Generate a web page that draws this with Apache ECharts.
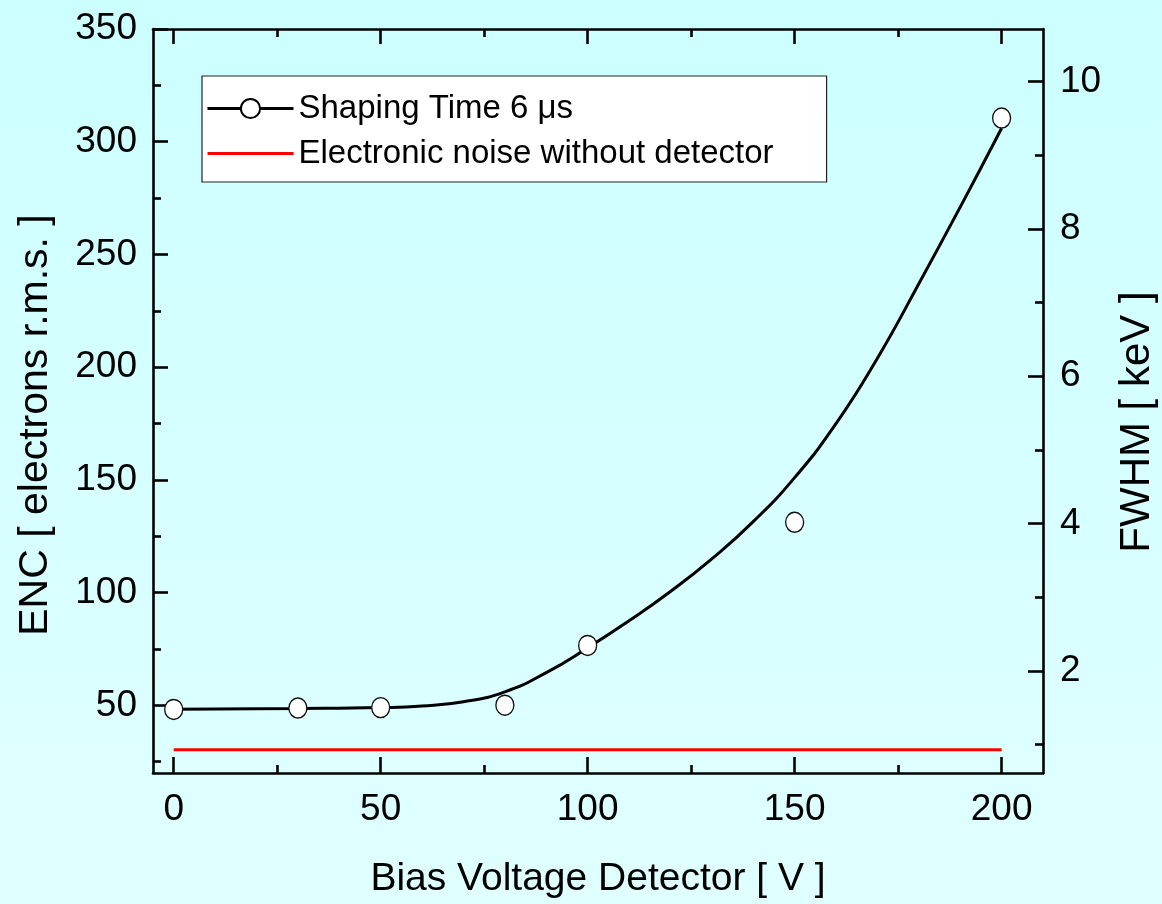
<!DOCTYPE html>
<html>
<head>
<meta charset="utf-8">
<title>ENC vs Bias Voltage</title>
<script src="https://cdn.jsdelivr.net/npm/echarts@6/dist/echarts.min.js"></script>
<style>
  html, body { margin: 0; padding: 0; }
  #chart { width: 1162px; height: 904px; }
</style>
</head>
<body>
<div id="chart"></div>
<script>
// Measured ENC at each bias voltage (shaping time 6 µs)
const biasVoltage = [0, 30, 50, 80, 100, 150, 200];
const encMeasured = [48.2, 48.8, 49.0, 50.1, 76.6, 131.2, 310.5];

// Fitted curve through the measurements
const fitVoltage = [0, 30, 50, 60, 70, 80, 90, 100, 110, 120, 130, 140, 150, 160, 170, 180, 190, 200];
const fitEnc = [48.3, 48.6, 49.0, 49.7, 51.6, 56.0, 64.5, 75.5, 87.5, 100.5, 115.0, 131.5, 151.0, 175.0, 204.0, 237.0, 271.0, 306.0];

// Electronic noise level measured without the detector
const noiseVoltage = [0, 200];
const noiseEnc = [30.3, 30.3];

// Axis ticks
const voltageMajorTicks = [0, 50, 100, 150, 200];
const voltageMinorTicks = [25, 75, 125, 175];
const encMajorTicks = [50, 100, 150, 200, 250, 300, 350];
const encMinorTicks = [25, 75, 125, 175, 225, 275, 325];
const fwhmMajorTicks = [2, 4, 6, 8, 10];
const fwhmMinorTicks = [1, 3, 5, 7, 9];

// Axis ranges; the FWHM axis is a fixed multiple of the ENC axis
const voltageRange = [-5, 210];
const encRange = [20, 350];
const keVPerElectron = 0.030606;

const FONT = "'Liberation Sans', Arial, Helvetica, sans-serif";
const AXIS_W = 2.6;

function tickAxis(opts) {
  return Object.assign({
    type: 'value',
    gridIndex: 0,
    splitLine: { show: false },
    axisLine: { show: false, onZero: false, lineStyle: { color: '#000', width: AXIS_W } },
    axisLabel: { show: false },
    axisTick: { show: true, inside: true, length: 15, lineStyle: { color: '#000', width: AXIS_W } }
  }, opts);
}

const labelStyle = { color: '#000', fontSize: 37, fontFamily: FONT };

const chart = echarts.init(document.getElementById('chart'), null, { renderer: 'canvas' });

chart.setOption({
  animation: false,
  backgroundColor: new echarts.graphic.LinearGradient(0, 0, 0, 1, [
    { offset: 0, color: '#ccffff' },
    { offset: 1, color: '#e0ffff' }
  ]),
  grid: { left: 153, top: 29, width: 890, height: 744, containLabel: false },
  legend: {
    orient: 'vertical',
    left: 202,
    top: 76,
    itemWidth: 86,
    itemHeight: 24,
    itemGap: 12,
    padding: [16, 53, 12, 4],
    backgroundColor: '#ffffff',
    borderColor: '#222',
    borderWidth: 1.2,
    borderRadius: 0,
    selectedMode: false,
    textStyle: { color: '#000', fontSize: 33, fontFamily: FONT },
    data: [
      { name: 'Shaping Time 6 μs', lineStyle: { width: 3 } },
      { name: 'Electronic noise without detector', lineStyle: { width: 3 }, itemStyle: { opacity: 0 } }
    ]
  },
  xAxis: [
    tickAxis({
      position: 'bottom', min: voltageRange[0], max: voltageRange[1],
      axisLine: { show: true, onZero: false, lineStyle: { color: '#000', width: AXIS_W } },
      axisTick: { show: true, inside: true, length: 16, customValues: voltageMajorTicks, lineStyle: { color: '#000', width: AXIS_W } },
      axisLabel: Object.assign({ show: true, margin: 18, customValues: voltageMajorTicks }, labelStyle)
    }),
    tickAxis({
      position: 'bottom', min: voltageRange[0], max: voltageRange[1],
      axisTick: { show: true, inside: true, length: 8, customValues: voltageMinorTicks, lineStyle: { color: '#000', width: AXIS_W } }
    }),
    tickAxis({
      position: 'top', min: voltageRange[0], max: voltageRange[1],
      axisLine: { show: true, onZero: false, lineStyle: { color: '#000', width: AXIS_W } },
      axisTick: { show: true, inside: true, length: 15, customValues: voltageMajorTicks, lineStyle: { color: '#000', width: AXIS_W } }
    }),
    tickAxis({
      position: 'top', min: voltageRange[0], max: voltageRange[1],
      axisTick: { show: true, inside: true, length: 8, customValues: voltageMinorTicks, lineStyle: { color: '#000', width: AXIS_W } }
    })
  ],
  yAxis: [
    tickAxis({
      position: 'left', min: encRange[0], max: encRange[1],
      axisLine: { show: true, onZero: false, lineStyle: { color: '#000', width: AXIS_W } },
      axisTick: { show: true, inside: true, length: 15, customValues: encMajorTicks, lineStyle: { color: '#000', width: AXIS_W } },
      axisLabel: Object.assign({ show: true, margin: 16, customValues: encMajorTicks }, labelStyle)
    }),
    tickAxis({
      position: 'left', min: encRange[0], max: encRange[1],
      axisTick: { show: true, inside: true, length: 8, customValues: encMinorTicks, lineStyle: { color: '#000', width: AXIS_W } }
    }),
    tickAxis({
      position: 'right', min: encRange[0] * keVPerElectron, max: encRange[1] * keVPerElectron,
      axisLine: { show: true, onZero: false, lineStyle: { color: '#000', width: AXIS_W } },
      axisTick: { show: true, inside: true, length: 15, customValues: fwhmMajorTicks, lineStyle: { color: '#000', width: AXIS_W } },
      axisLabel: Object.assign({ show: true, margin: 17, customValues: fwhmMajorTicks }, labelStyle)
    }),
    tickAxis({
      position: 'right', min: encRange[0] * keVPerElectron, max: encRange[1] * keVPerElectron,
      axisTick: { show: true, inside: true, length: 8, customValues: fwhmMinorTicks, lineStyle: { color: '#000', width: AXIS_W } }
    })
  ],
  series: [
    {
      name: 'Shaping Time 6 μs',
      type: 'line',
      xAxisIndex: 0,
      yAxisIndex: 0,
      data: fitVoltage.map((v, i) => [v, fitEnc[i]]),
      smooth: 0.5,
      showSymbol: false,
      symbol: 'emptyCircle',
      color: '#000',
      lineStyle: { color: '#000', width: 3 },
      z: 3
    },
    {
      name: 'Electronic noise without detector',
      type: 'line',
      xAxisIndex: 0,
      yAxisIndex: 0,
      data: noiseVoltage.map((v, i) => [v, noiseEnc[i]]),
      showSymbol: false,
      symbol: 'none',
      color: '#ff0000',
      lineStyle: { color: '#ff0000', width: 3 },
      z: 2
    },
    {
      name: 'measured',
      type: 'scatter',
      xAxisIndex: 0,
      yAxisIndex: 0,
      data: biasVoltage.map((v, i) => [v, encMeasured[i]]),
      symbol: 'circle',
      symbolSize: [18, 20],
      itemStyle: { color: '#ffffff', borderColor: '#111', borderWidth: 1.4, opacity: 1 },
      z: 4
    }
  ],
  graphic: [
    {
      type: 'text',
      x: 598, y: 879,
      style: {
        text: 'Bias Voltage Detector [ V ]',
        font: '39px ' + FONT,
        fill: '#000',
        align: 'center', verticalAlign: 'middle',
        textAlign: 'center', textVerticalAlign: 'middle'
      }
    },
    {
      type: 'text',
      x: 36, y: 425,
      rotation: Math.PI / 2,
      style: {
        text: 'ENC [ electrons r.m.s. ]',
        font: '41px ' + FONT,
        fill: '#000',
        align: 'center', verticalAlign: 'middle',
        textAlign: 'center', textVerticalAlign: 'middle'
      }
    },
    {
      type: 'text',
      x: 1137, y: 422,
      rotation: Math.PI / 2,
      style: {
        text: 'FWHM [ keV ]',
        font: '42px ' + FONT,
        fill: '#000',
        align: 'center', verticalAlign: 'middle',
        textAlign: 'center', textVerticalAlign: 'middle'
      }
    }
  ]
});
</script>
</body>
</html>
